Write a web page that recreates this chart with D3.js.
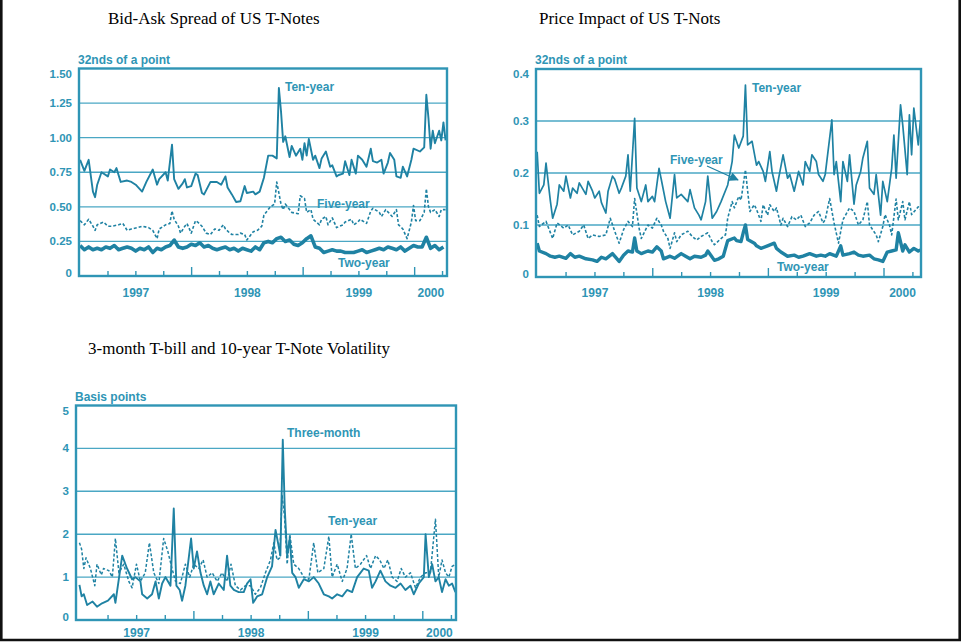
<!DOCTYPE html>
<html><head><meta charset="utf-8">
<script src="https://cdn.jsdelivr.net/npm/d3@7"></script>
<style>body{margin:0;background:#fff}svg{display:block}</style>
</head><body>
<svg id="c" width="961" height="642"></svg>
<script>
// ---------- DATA (week index since 30 Dec 1996, value) ----------
const yearLabels = ["1997", "1998", "1999", "2000"];

// Panel 1: Bid-ask spread (32nds of a point)
const spreadTenYear = [[0,0.84],[2,0.76],[4,0.84],[6,0.61],[7,0.57],[8,0.66],[10,0.75],[13,0.72],[14,0.77],[16,0.75],[17,0.78],[19,0.68],[22,0.69],[24,0.68],[26,0.66],[29,0.61],[31,0.68],[34,0.77],[36,0.66],[37,0.70],[40,0.75],[41,0.69],[43,0.95],[44,0.70],[46,0.63],[48,0.67],[49,0.70],[50,0.64],[52,0.65],[54,0.74],[55,0.73],[57,0.60],[58,0.59],[61,0.68],[64,0.68],[66,0.66],[68,0.72],[69,0.64],[71,0.59],[73,0.535],[75,0.54],[77,0.65],[78,0.60],[81,0.61],[82,0.59],[84,0.61],[86,0.71],[88,0.87],[90,0.87],[92,0.85],[93,1.36],[94,1.19],[95,0.97],[96,1.01],[98,0.86],[99,0.94],[101,0.87],[103,0.92],[104,0.84],[105,0.96],[106,0.87],[107,0.99],[109,0.84],[110,0.87],[112,0.78],[113,0.85],[115,0.90],[117,0.79],[118,0.80],[120,0.72],[121,0.73],[123,0.74],[124,0.83],[126,0.73],[127,0.84],[129,0.74],[130,0.87],[132,0.84],[134,0.79],[136,0.92],[137,0.83],[139,0.82],[141,0.84],[142,0.74],[144,0.82],[145,0.89],[147,0.84],[148,0.72],[150,0.71],[151,0.79],[153,0.72],[155,0.84],[156,0.92],[159,0.90],[161,0.93],[162,1.31],[163,1.14],[164,0.92],[165,1.05],[166,0.96],[168,1.05],[169,0.98],[170,1.11],[171,0.98]];
const spreadFiveYear = [[0,0.40],[2,0.37],[4,0.41],[6,0.36],[7,0.33],[8,0.37],[11,0.39],[13,0.36],[15,0.36],[18,0.37],[20,0.38],[22,0.33],[24,0.34],[27,0.35],[29,0.36],[32,0.35],[34,0.33],[36,0.27],[37,0.34],[40,0.37],[42,0.38],[43,0.47],[44,0.41],[46,0.36],[47,0.31],[49,0.36],[50,0.38],[52,0.31],[54,0.40],[55,0.39],[57,0.36],[59,0.31],[61,0.30],[63,0.34],[65,0.33],[67,0.37],[68,0.34],[70,0.31],[71,0.30],[74,0.30],[75,0.31],[77,0.30],[78,0.26],[81,0.32],[83,0.33],[85,0.36],[86,0.44],[88,0.48],[89,0.50],[91,0.52],[92,0.68],[94,0.52],[95,0.48],[96,0.52],[98,0.48],[99,0.46],[102,0.45],[103,0.58],[105,0.56],[106,0.46],[108,0.48],[109,0.41],[112,0.37],[113,0.41],[115,0.43],[116,0.37],[118,0.42],[120,0.35],[123,0.37],[124,0.39],[127,0.41],[128,0.37],[130,0.39],[131,0.41],[134,0.38],[136,0.47],[137,0.49],[140,0.46],[141,0.43],[143,0.48],[146,0.43],[148,0.48],[149,0.37],[151,0.34],[153,0.27],[155,0.39],[156,0.51],[157,0.40],[159,0.40],[161,0.46],[162,0.63],[163,0.50],[164,0.46],[166,0.48],[168,0.43],[169,0.48],[171,0.48]];
const spreadTwoYear = [[0,0.22],[2,0.19],[4,0.21],[6,0.19],[8,0.20],[10,0.19],[12,0.21],[14,0.20],[16,0.22],[18,0.19],[20,0.20],[22,0.21],[24,0.20],[26,0.18],[28,0.20],[30,0.19],[32,0.21],[34,0.17],[36,0.20],[38,0.19],[40,0.21],[42,0.22],[44,0.26],[46,0.21],[48,0.20],[50,0.21],[52,0.23],[54,0.22],[56,0.24],[58,0.21],[60,0.22],[62,0.20],[64,0.19],[66,0.20],[68,0.21],[70,0.19],[72,0.20],[74,0.18],[76,0.20],[78,0.19],[80,0.18],[82,0.21],[84,0.19],[86,0.24],[88,0.25],[90,0.24],[92,0.27],[94,0.28],[96,0.25],[98,0.26],[100,0.23],[102,0.22],[104,0.24],[106,0.27],[108,0.29],[110,0.21],[112,0.20],[114,0.17],[116,0.18],[118,0.19],[120,0.18],[122,0.18],[124,0.17],[126,0.17],[128,0.17],[130,0.18],[132,0.19],[134,0.17],[136,0.18],[138,0.19],[140,0.20],[142,0.19],[144,0.21],[146,0.20],[148,0.19],[150,0.21],[152,0.18],[154,0.20],[156,0.22],[158,0.21],[160,0.21],[162,0.28],[164,0.20],[166,0.22],[168,0.19],[170,0.21]];

// Panel 2: Price impact (32nds of a point)
const impactTenYear = [[0,0.241],[1,0.161],[3,0.177],[4,0.219],[6,0.145],[7,0.113],[9,0.14],[10,0.177],[12,0.165],[13,0.194],[15,0.152],[16,0.171],[18,0.161],[19,0.181],[22,0.159],[23,0.184],[25,0.165],[26,0.152],[28,0.165],[29,0.143],[31,0.123],[32,0.165],[34,0.194],[35,0.188],[37,0.161],[38,0.171],[40,0.194],[41,0.235],[42,0.165],[44,0.305],[45,0.171],[47,0.145],[49,0.177],[50,0.145],[52,0.155],[53,0.145],[55,0.209],[56,0.188],[58,0.145],[60,0.113],[62,0.197],[63,0.152],[65,0.159],[68,0.145],[69,0.168],[71,0.133],[73,0.119],[74,0.11],[76,0.145],[77,0.194],[79,0.113],[81,0.126],[83,0.145],[86,0.177],[88,0.222],[89,0.273],[91,0.248],[93,0.271],[94,0.369],[95,0.254],[97,0.261],[99,0.215],[100,0.222],[102,0.203],[103,0.184],[105,0.241],[106,0.203],[108,0.165],[109,0.19],[111,0.235],[113,0.19],[114,0.197],[116,0.165],[118,0.203],[120,0.177],[121,0.222],[123,0.203],[124,0.235],[126,0.222],[127,0.197],[129,0.184],[130,0.197],[133,0.302],[134,0.197],[135,0.222],[137,0.145],[138,0.222],[140,0.184],[141,0.235],[143,0.14],[144,0.177],[146,0.203],[147,0.229],[149,0.261],[150,0.171],[152,0.159],[153,0.197],[155,0.119],[156,0.184],[158,0.145],[160,0.209],[161,0.273],[162,0.19],[164,0.331],[165,0.292],[167,0.197],[168,0.312],[169,0.235],[170,0.325],[172,0.254],[173,0.302]];
const impactFiveYear = [[0,0.119],[1,0.097],[4,0.107],[7,0.074],[9,0.104],[12,0.094],[14,0.100],[16,0.081],[19,0.088],[21,0.100],[23,0.074],[25,0.081],[28,0.078],[31,0.081],[33,0.113],[35,0.088],[37,0.065],[39,0.091],[41,0.107],[43,0.097],[44,0.151],[46,0.094],[47,0.074],[50,0.100],[52,0.094],[54,0.113],[56,0.100],[57,0.088],[59,0.074],[60,0.055],[62,0.085],[63,0.068],[65,0.081],[68,0.088],[70,0.078],[72,0.071],[74,0.078],[77,0.085],[79,0.068],[80,0.062],[83,0.074],[85,0.081],[86,0.113],[88,0.145],[89,0.133],[91,0.155],[92,0.148],[94,0.206],[95,0.165],[96,0.126],[98,0.139],[99,0.130],[101,0.107],[102,0.139],[104,0.119],[105,0.139],[107,0.126],[108,0.133],[110,0.100],[111,0.113],[113,0.097],[115,0.116],[117,0.110],[119,0.119],[121,0.097],[123,0.104],[125,0.119],[127,0.126],[129,0.104],[130,0.110],[132,0.151],[134,0.104],[136,0.065],[138,0.110],[141,0.133],[143,0.126],[145,0.100],[147,0.110],[149,0.145],[150,0.100],[153,0.081],[154,0.068],[156,0.097],[157,0.120],[159,0.100],[160,0.081],[162,0.150],[163,0.110],[165,0.145],[166,0.110],[168,0.145],[169,0.120],[172,0.135],[173,0.130]];
const impactTwoYear = [[0,0.065],[1,0.05],[4,0.045],[6,0.04],[8,0.038],[10,0.04],[13,0.036],[15,0.045],[17,0.038],[19,0.04],[22,0.035],[25,0.033],[27,0.03],[29,0.038],[31,0.035],[34,0.045],[37,0.03],[39,0.042],[41,0.05],[43,0.048],[44,0.075],[45,0.05],[47,0.045],[50,0.05],[52,0.048],[54,0.058],[56,0.05],[57,0.035],[60,0.04],[62,0.036],[65,0.045],[67,0.04],[69,0.035],[71,0.04],[74,0.038],[76,0.042],[77,0.05],[80,0.032],[82,0.035],[84,0.04],[86,0.07],[89,0.075],[90,0.07],[92,0.068],[93,0.085],[94,0.1],[95,0.072],[98,0.065],[99,0.06],[101,0.055],[104,0.06],[107,0.065],[108,0.055],[110,0.048],[113,0.04],[116,0.042],[118,0.038],[120,0.04],[123,0.045],[126,0.04],[128,0.042],[130,0.04],[132,0.045],[135,0.04],[137,0.06],[138,0.042],[141,0.045],[143,0.048],[145,0.042],[147,0.04],[150,0.042],[152,0.035],[154,0.033],[156,0.03],[158,0.048],[160,0.05],[162,0.052],[163,0.085],[165,0.05],[166,0.062],[168,0.048],[170,0.055],[172,0.05],[173,0.052]];

// Panel 3: Volatility (basis points)
const volThreeMonth = [[0,0.82],[1,0.55],[2,0.6],[3.5,0.35],[6,0.43],[8,0.31],[10.3,0.39],[13,0.45],[15.7,0.6],[16.4,0.4],[19.5,1.5],[21.7,1.2],[24,0.95],[25.5,1.0],[27.8,0.9],[28.6,0.6],[30.9,0.5],[33.1,0.6],[34.7,0.9],[36.2,0.5],[37.7,0.85],[39.2,1.0],[41.5,0.8],[43,2.6],[44.2,0.8],[45.7,0.7],[46.8,0.45],[48.3,0.8],[50.9,1.9],[52.1,1.2],[53.6,1.6],[55.2,1.1],[56.7,0.8],[58.2,0.6],[59.7,0.9],[61.2,0.6],[63.5,0.85],[65.8,0.7],[67.3,1.5],[68.8,0.8],[70.4,0.7],[72.6,0.65],[74.9,0.65],[76.4,0.85],[78,0.95],[79.2,0.4],[81,0.55],[83.3,0.6],[85.6,1.0],[87.8,1.25],[89.4,2.1],[90.9,1.7],[91.6,1.5],[92.7,4.2],[93.6,2.6],[94.7,1.5],[95.9,1.9],[97,1.1],[98.5,1.0],[100,0.75],[102.3,0.95],[104.6,0.9],[106.8,1.0],[109.1,0.85],[111.4,0.6],[113.7,0.55],[115.2,0.5],[117.5,0.6],[119.8,0.55],[122,0.7],[124.3,0.65],[126.6,1.0],[128.1,1.1],[129.6,1.2],[131.9,1.15],[133.4,0.75],[135,0.9],[137.2,1.15],[139.5,0.9],[141.8,0.8],[144.1,0.75],[146.4,0.85],[148.6,0.7],[150.9,0.8],[152.4,0.6],[154.7,0.85],[157,1.0],[157.8,2.0],[159.3,1.0],[160.8,1.3],[162.3,0.9],[163.8,1.0],[165.3,0.65],[166.9,0.95],[168.4,0.8],[169.9,0.85],[171.4,0.65]];
const volTenYear = [[0,1.8],[1,1.65],[2,1.2],[3,1.45],[5,1.2],[7,0.8],[8,1.3],[10,1.05],[11,1.2],[13.4,1.15],[15,1.0],[16.4,1.9],[18,1.1],[20.2,1.3],[22.5,0.9],[24,0.75],[26,1.3],[27.8,0.9],[30,1.1],[31.9,1.8],[33.9,1.1],[36.2,0.85],[38.4,1.9],[40.3,1.6],[42.2,1.2],[43.8,0.9],[46,0.85],[48.3,1.3],[50.3,1.0],[52.1,1.3],[54.4,1.2],[56.4,1.4],[58.2,1.0],[60.5,1.1],[62.8,0.9],[65,1.1],[67.3,0.9],[69.1,1.3],[71.1,0.8],[73.4,0.7],[75.7,0.8],[78,0.8],[80.2,0.6],[82.5,0.75],[84.8,1.1],[87.1,1.4],[88.6,1.8],[90.1,1.4],[91.3,1.45],[92.4,2.9],[93.5,2.4],[94.7,1.3],[95.9,2.0],[97.7,1.3],[100,1.2],[102.3,1.0],[104.6,0.95],[106.8,1.8],[108.7,1.1],[111.4,1.2],[113.7,1.95],[115.2,1.0],[117.5,1.3],[119.8,0.9],[122,1.2],[123.9,2.0],[125.8,1.2],[128.1,1.3],[130.9,1.5],[132.7,1.2],[135,1.5],[136.9,1.4],[138.8,1.2],[140.6,1.4],[142.6,1.0],[144.8,0.9],[146.7,1.2],[148.6,1.0],[150.9,1.1],[153.2,0.75],[155.5,1.0],[157.8,1.1],[160,1.1],[162.3,2.35],[163.8,1.0],[165.3,1.4],[166.9,1.1],[168.4,1.0],[169.9,1.25],[171.4,1.3]];

const spreadTicks = [0, 0.25, 0.5, 0.75, 1.0, 1.25, 1.5];
const impactTicks = [0, 0.1, 0.2, 0.3, 0.4];
const volTicks = [0, 1, 2, 3, 4, 5];

// ---------- DRAWING ----------
const svg = d3.select("#c");
const FRAME = "#2f95b5", GRID = "#4aa7c4", LINE = "#1f82a3", TEXT = "#2f95b5";
const weekToYear = w => 1997 + w * 7 / 365.25;

function drawPanel(p) {
  const x = d3.scaleLinear().domain(p.xDomain).range([p.left, p.right]);
  const y = d3.scaleLinear().domain([0, p.yMax]).range([p.bottom, p.top]);
  const g = svg.append("g");
  const clipId = "clip" + p.id;
  svg.append("clipPath").attr("id", clipId).append("rect")
    .attr("x", p.left).attr("y", p.top).attr("width", p.right - p.left).attr("height", p.bottom - p.top);

  // gridlines
  g.selectAll(".grid").data(p.yTicks.filter(t => t > 0 && t < p.yMax)).join("line")
    .attr("x1", p.left).attr("x2", p.right).attr("y1", d => y(d)).attr("y2", d => y(d))
    .attr("stroke", GRID).attr("stroke-width", 1.4);

  // y tick labels
  g.selectAll(".yl").data(p.yTicks).join("text")
    .attr("x", p.left - 7)
    .attr("y", d => y(d) + 4 + (d === p.yMax ? 5 : 0) + (d === 0 ? -3 : 0))
    .attr("text-anchor", "end").attr("fill", TEXT)
    .style("font", "bold 11.5px 'Liberation Sans', Arial, sans-serif")
    .text(d => d === 0 ? "0" : p.fmt(d));

  // x ticks (quarters), longer at years
  const qTicks = d3.range(1997.25, p.xDomain[1], 0.25);
  g.selectAll(".xt").data(qTicks).join("line")
    .attr("x1", d => x(d)).attr("x2", d => x(d))
    .attr("y1", p.bottom).attr("y2", d => p.bottom - (Math.abs(d - Math.round(d)) < 1e-6 ? 9 : 5))
    .attr("stroke", FRAME).attr("stroke-width", 1.4);

  // year labels centred on the visible part of each year
  g.selectAll(".xl").data(yearLabels).join("text")
    .attr("x", d => {
      const a = Math.max(+d, p.xDomain[0]), b = Math.min(+d + 1, p.xDomain[1]);
      return x((a + b) / 2);
    })
    .attr("y", p.xLabelY).attr("text-anchor", "middle").attr("fill", TEXT)
    .style("font", "bold 12px 'Liberation Sans', Arial, sans-serif")
    .text(d => d);

  // series
  const line = d3.line().x(d => x(weekToYear(d[0]))).y(d => y(d[1]));
  const lg = g.append("g").attr("clip-path", `url(#${clipId})`);
  p.series.forEach(s => {
    lg.append("path").datum(s.data).attr("d", line)
      .attr("fill", "none").attr("stroke", LINE)
      .attr("stroke-width", s.width).attr("stroke-linejoin", "round")
      .attr("stroke-dasharray", s.dash || null);
  });

  // frame
  g.append("rect").attr("x", p.left).attr("y", p.top)
    .attr("width", p.right - p.left).attr("height", p.bottom - p.top)
    .attr("fill", "none").attr("stroke", FRAME).attr("stroke-width", 2.4);

  // unit title
  g.append("text").attr("x", p.left - 1).attr("y", p.top - 5).attr("fill", TEXT)
    .style("font", "bold 12px 'Liberation Sans', Arial, sans-serif").text(p.unit);

  // chart title
  svg.append("text").attr("x", p.titleX).attr("y", p.titleY).attr("fill", "#000")
    .style("font", "17px 'Liberation Serif', 'Times New Roman', serif").text(p.title);

  // series labels
  p.labels.forEach(l => {
    g.append("text").attr("x", l.x).attr("y", l.y).attr("fill", TEXT)
      .style("font", "bold 12px 'Liberation Sans', Arial, sans-serif").text(l.text);
  });
  return { x, y, g };
}

drawPanel({
  id: 1, left: 79, right: 447, top: 68.5, bottom: 276, xDomain: [1996.99, 2000.29],
  yMax: 1.5, yTicks: spreadTicks, fmt: d3.format(".2f"), xLabelY: 297,
  unit: "32nds of a point", title: "Bid-Ask Spread of US T-Notes", titleX: 108, titleY: 24,
  series: [
    { data: spreadFiveYear, width: 1.6, dash: "3,2" },
    { data: spreadTenYear, width: 1.9 },
    { data: spreadTwoYear, width: 3.6 }
  ],
  labels: [
    { text: "Ten-year", x: 285, y: 91 },
    { text: "Five-year", x: 317, y: 208 },
    { text: "Two-year", x: 338, y: 267 }
  ]
});

const p2 = drawPanel({
  id: 2, left: 536, right: 921, top: 69, bottom: 277, xDomain: [1996.99, 2000.32],
  yMax: 0.4, yTicks: impactTicks, fmt: d3.format(".1f"), xLabelY: 297,
  unit: "32nds of a point", title: "Price Impact of US T-Nots", titleX: 539, titleY: 24,
  series: [
    { data: impactFiveYear, width: 1.6, dash: "3,2" },
    { data: impactTenYear, width: 1.7 },
    { data: impactTwoYear, width: 3.4 }
  ],
  labels: [
    { text: "Ten-year", x: 752, y: 92 },
    { text: "Five-year", x: 670, y: 164 },
    { text: "Two-year", x: 777, y: 271 }
  ]
});
// arrow from "Five-year" label to the dashed peak
svg.append("defs").append("marker").attr("id", "arr").attr("viewBox", "0 0 10 10")
  .attr("refX", 9).attr("refY", 5).attr("markerWidth", 7).attr("markerHeight", 7)
  .attr("orient", "auto").append("path").attr("d", "M0,0L10,5L0,10z").attr("fill", LINE);
p2.g.append("line").attr("x1", 707).attr("y1", 166).attr("x2", 738).attr("y2", 180)
  .attr("stroke", LINE).attr("stroke-width", 1.3).attr("marker-end", "url(#arr)");

drawPanel({
  id: 3, left: 76, right: 456, top: 405.5, bottom: 620, xDomain: [1996.97, 2000.29],
  yMax: 5, yTicks: volTicks, fmt: d3.format("d"), xLabelY: 637,
  unit: "Basis points", title: "3-month T-bill and 10-year T-Note Volatility", titleX: 88, titleY: 354,
  series: [
    { data: volTenYear, width: 1.5, dash: "3,2" },
    { data: volThreeMonth, width: 1.9 }
  ],
  labels: [
    { text: "Three-month", x: 287, y: 437 },
    { text: "Ten-year", x: 328, y: 525 }
  ]
});

// outer border (left, right, bottom)
svg.append("path").attr("d", "M1.3,0V640H959.7V0")
  .attr("fill", "none").attr("stroke", "#111").attr("stroke-width", 2.6);
</script>
</body></html>
